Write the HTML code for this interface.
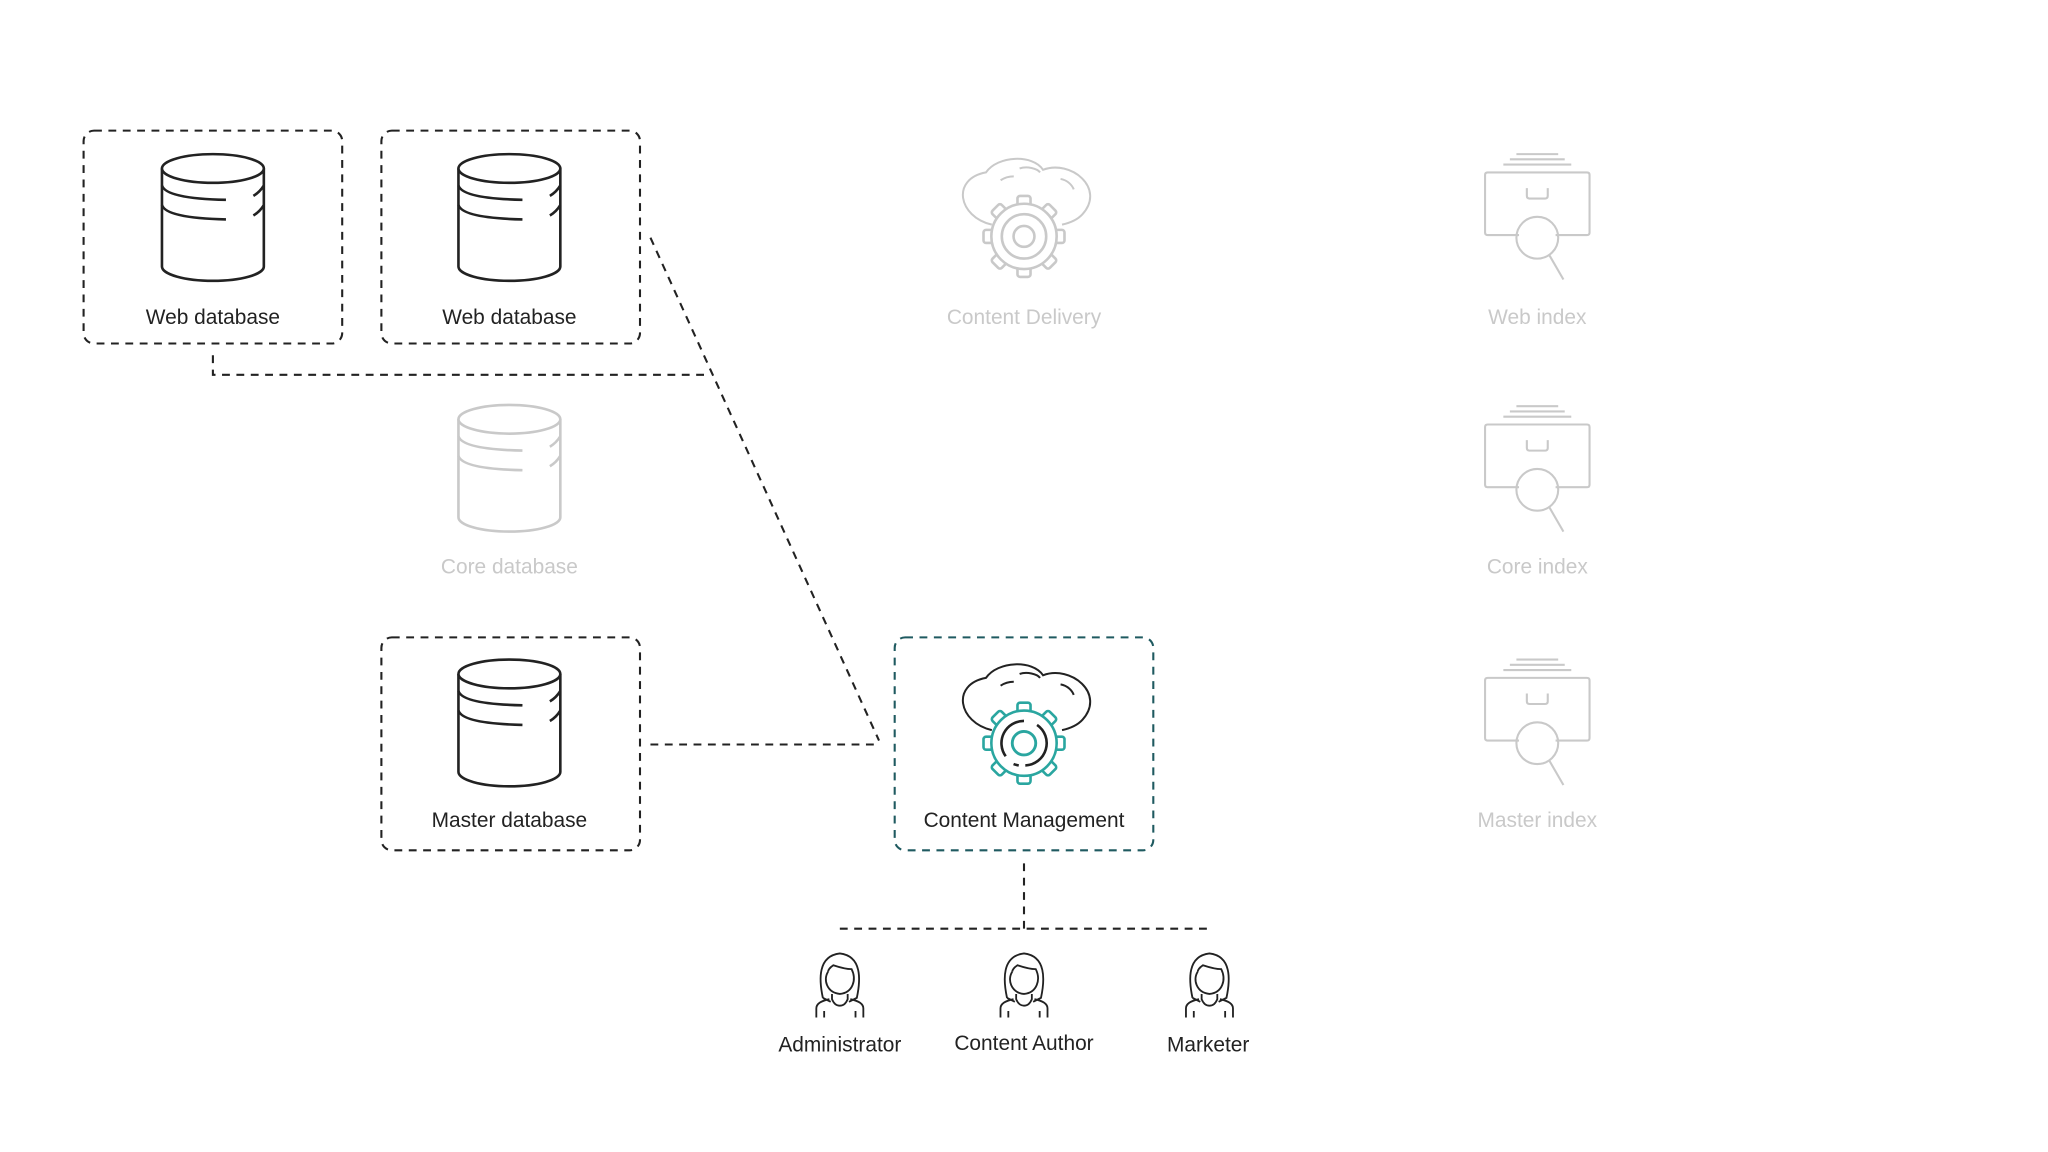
<!DOCTYPE html>
<html><head><meta charset="utf-8"><style>
html,body{margin:0;padding:0;background:#fff;}
svg{display:block;}
text{font-family:"Liberation Sans",sans-serif;font-size:16px;text-anchor:middle;}
</style></head><body>
<svg width="2048" height="1152" viewBox="0 0 1568 882" xmlns="http://www.w3.org/2000/svg">
<defs>
<g id="cyl" fill="#fff" stroke-width="2">
<path d="M-39,11 V86 A39,11 0 0 0 39,86 V11"/>
<ellipse cx="0" cy="11" rx="39" ry="11"/>
<path d="M-39,24 Q-36,34 10,35 M39,24 Q36,29 31,32 M-39,39 Q-36,49 10,50 M39,39 Q36,44 31,47" fill="none"/>
</g>
<g id="idx" fill="none" stroke="#c9c9c9" stroke-width="1.6">
<path d="M-16,0 H16 M-21,4 H21 M-26,8 H26"/>
<path d="M-14,62 H-38 Q-40,62 -40,60 V16 Q-40,14 -38,14 H38 Q40,14 40,16 V60 Q40,62 38,62 H14"/>
<path d="M-8,26 V32 Q-8,34 -6,34 H6 Q8,34 8,32 V26"/>
<circle cx="0" cy="64" r="16"/>
<path d="M9,77 L20,96"/>
</g>
<g id="person" fill="none" stroke="#222" stroke-width="1.4">
<path d="M-13,34 C-16,20 -17,2 0,0 C17,2 16,20 13,34 L7,37"/>
<path d="M-13,34 L-7,37"/>
<path d="M-9,14 C-13,20 -10,30 0,31 C10,30 13,20 9,12 C4,12 -2,10 -5,9 C-8,11 -9,13 -9,14"/>
<path d="M-6,31 V35 Q-4,40 0,40 Q4,40 6,35 V31"/>
<path d="M-18,49 V42 Q-18,37 -8,35 M18,49 V42 Q18,37 8,35 M-12,44 V49 M12,44 V49"/>
</g>
<g id="cloud" fill="none" stroke-width="2">
<g transform="scale(1.12,1)">
<path d="M-22,38 C-45,32 -50,3 -26,-2 C-18,-15 6,-16 13,-4 C32,-12 56,10 40,30 C36,35 30,37 26,38" vector-effect="non-scaling-stroke"/>
<path d="M-16,4 C-12,1 -8,1 -7,1 M-3,-5 C2,-7 9,-5 11,-2 M25,3 C30,4 33,8 34,11" vector-effect="non-scaling-stroke"/>
</g>
</g>
<g id="gear" stroke-width="2">
<g>
<rect x="-5" y="-31" width="10" height="9" rx="2"/>
<rect x="-5" y="-31" width="10" height="9" rx="2" transform="rotate(45)"/>
<rect x="-5" y="-31" width="10" height="9" rx="2" transform="rotate(90)"/>
<rect x="-5" y="-31" width="10" height="9" rx="2" transform="rotate(135)"/>
<rect x="-5" y="-31" width="10" height="9" rx="2" transform="rotate(180)"/>
<rect x="-5" y="-31" width="10" height="9" rx="2" transform="rotate(225)"/>
<rect x="-5" y="-31" width="10" height="9" rx="2" transform="rotate(270)"/>
<rect x="-5" y="-31" width="10" height="9" rx="2" transform="rotate(315)"/>
</g>
<circle r="25" fill="#fff"/>
</g>
</defs>

<g fill="none" stroke="#222" stroke-width="1.6" stroke-dasharray="6,5">
<rect x="64" y="100" width="198" height="163" rx="8"/>
<rect x="292" y="100" width="198" height="163" rx="8"/>
<rect x="292" y="488" width="198" height="163" rx="8"/>
<path d="M163,272 V287 H540"/>
<path d="M498,182 L673,567"/>
<path d="M498,570 H673"/>
<path d="M784,661 V711 M643,711 H926"/>
</g>
<rect x="685" y="488" width="198" height="163" rx="8" fill="none" stroke="#1f5a60" stroke-width="1.6" stroke-dasharray="6,5"/>

<use href="#cyl" x="163" y="118" stroke="#222"/>
<use href="#cyl" x="390" y="118" stroke="#222"/>
<use href="#cyl" x="390" y="310" stroke="#c9c9c9"/>
<use href="#cyl" x="390" y="505" stroke="#222"/>

<use href="#cloud" x="784" y="134" stroke="#c9c9c9"/>
<g transform="translate(784,181)" stroke="#c9c9c9" fill="#fff"><use href="#gear"/>
<circle r="17" fill="none" stroke-width="2"/><circle r="8" fill="none" stroke-width="2"/></g>

<use href="#cloud" x="784" y="521" stroke="#222"/>
<g transform="translate(784,569)" stroke="#2aa6a0" fill="#fff"><use href="#gear"/>
<path d="M-14,10 A17,17 0 0 1 0,-17 M10,-14 A17,17 0 0 1 1,17 M-4,17 A17,17 0 0 1 -8,16" fill="none" stroke="#222" stroke-width="2"/>
<circle r="9" fill="none" stroke-width="2.2"/></g>

<use href="#idx" x="1177" y="118"/>
<use href="#idx" x="1177" y="311"/>
<use href="#idx" x="1177" y="505"/>

<use href="#person" x="643" y="730"/>
<use href="#person" x="784" y="730"/>
<use href="#person" x="926" y="730"/>

<g fill="#222">
<text x="163" y="248">Web database</text>
<text x="390" y="248">Web database</text>
<text x="390" y="633">Master database</text>
<text x="784" y="633">Content Management</text>
<text x="643" y="805">Administrator</text>
<text x="784" y="804">Content Author</text>
<text x="925" y="805">Marketer</text>
</g>
<g fill="#c9c9c9">
<text x="390" y="439">Core database</text>
<text x="784" y="248">Content Delivery</text>
<text x="1177" y="248">Web index</text>
<text x="1177" y="439">Core index</text>
<text x="1177" y="633">Master index</text>
</g>
</svg>
</body></html>
